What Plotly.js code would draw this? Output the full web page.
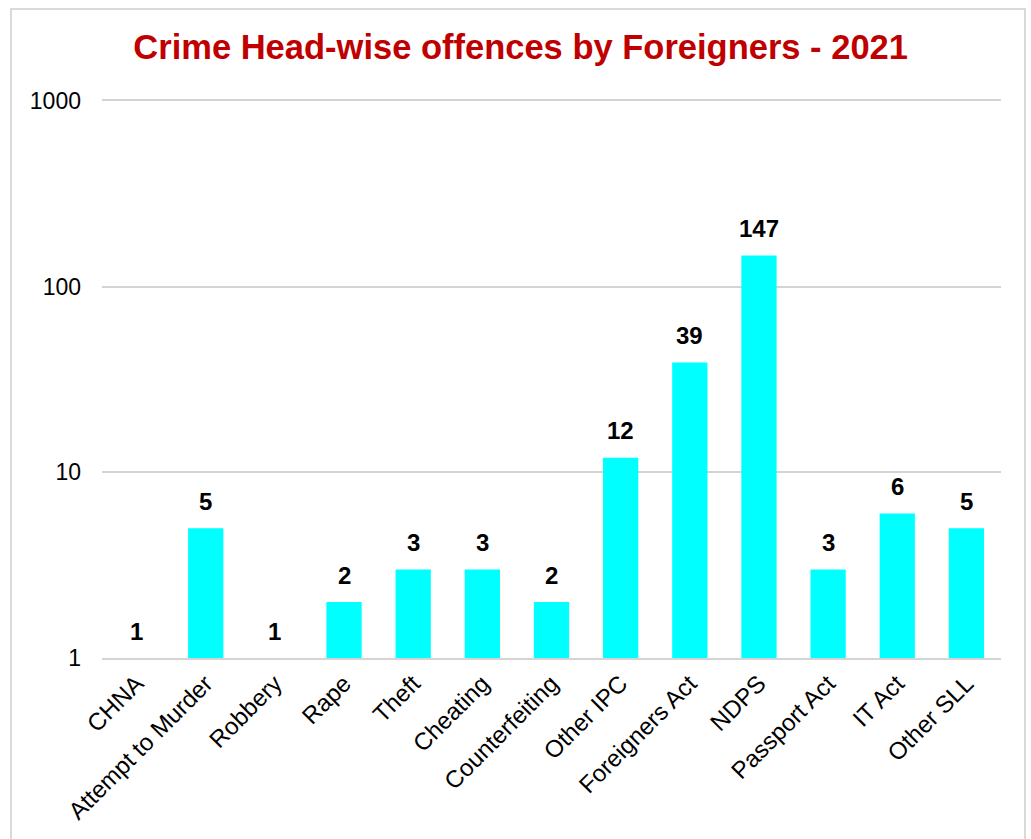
<!DOCTYPE html>
<html>
<head>
<meta charset="utf-8">
<script src="https://cdn.plot.ly/plotly-3.0.1.min.js"></script>
<style>
html,body{margin:0;padding:0;background:#fff;}
#chart{width:1031px;height:839px;position:absolute;left:0;top:0;}
#frame{position:absolute;left:10px;top:8px;width:1016px;height:860px;border:2px solid #d9d9d9;pointer-events:none;box-sizing:border-box;}
</style>
</head>
<body>
<div id="chart"></div>
<div id="frame"></div>
<script>
const categories = ["CHNA","Attempt to Murder","Robbery","Rape","Theft","Cheating","Counterfeiting","Other IPC","Foreigners Act","NDPS","Passport Act","IT Act","Other SLL"];
const values = [1,5,1,2,3,3,2,12,39,147,3,6,5];
const yTickVals = [1,10,100,1000];
const yTickText = ["1","10","100","1000"];

const FONT = 'Arial, Liberation Sans, sans-serif';

const trace = {
  type: 'bar',
  x: categories,
  y: values,
  marker: {color: '#00FFFF'},
  cliponaxis: false,
  hoverinfo: 'x+y'
};

// value labels above bars (log axis annotations use log10 of the value)
const annotations = categories.map((c, i) => ({
  x: c,
  y: Math.log10(values[i]),
  xref: 'x', yref: 'y',
  text: '<b>' + values[i] + '</b>',
  showarrow: false,
  yanchor: 'middle',
  yshift: 27,
  font: {family: FONT, size: 24, color: '#000'}
}));

const layout = {
  width: 1031, height: 839,
  margin: {l: 102, r: 30, t: 101, b: 181},
  paper_bgcolor: '#fff', plot_bgcolor: '#fff',
  title: {
    text: '<b>Crime Head-wise offences by Foreigners - 2021</b>',
    font: {family: FONT, size: 34.5, color: '#C00000'},
    x: 0.505, xanchor: 'center', y: 0.944, yanchor: 'middle'
  },
  bargap: 0.49,
  xaxis: {
    type: 'category',
    tickangle: -45,
    tickfont: {family: FONT, size: 24, color: '#000'},
    showgrid: false,
    showline: true, mirror: true, linecolor: '#d4d4d4', linewidth: 2,
    ticks: '', ticklen: 0
  },
  yaxis: {
    type: 'log',
    range: [0, 3],
    tickvals: yTickVals,
    ticktext: yTickText,
    tickfont: {family: FONT, size: 23, color: '#000'},
    gridcolor: '#d4d4d4', gridwidth: 2,
    showline: false, zeroline: false, ticks: '', ticklabelstandoff: 20
  },
  annotations: annotations,
  showlegend: false
};

Plotly.newPlot('chart', [trace], layout, {displayModeBar: false, staticPlot: true});
</script>
</body>
</html>
